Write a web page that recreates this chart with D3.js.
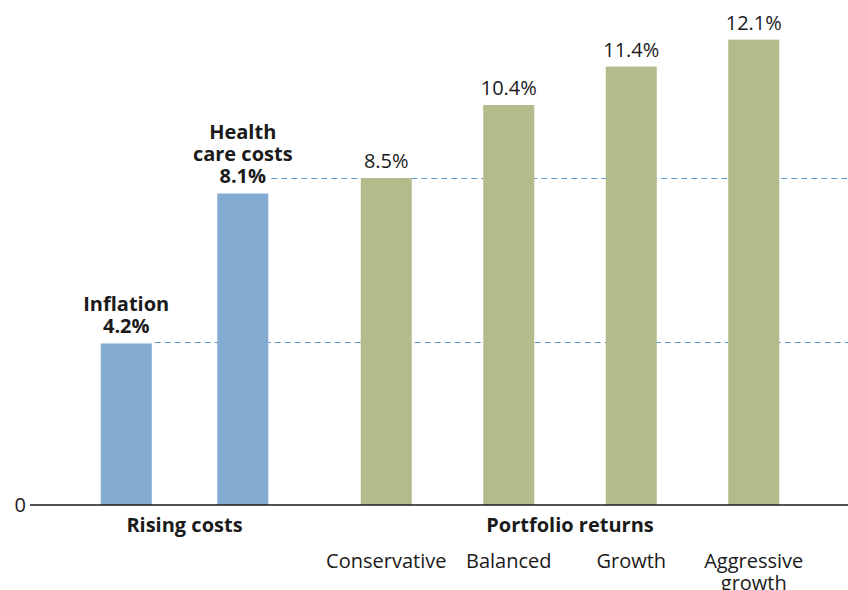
<!DOCTYPE html>
<html>
<head>
<meta charset="utf-8">
<script src="https://cdn.jsdelivr.net/npm/d3@7"></script>
<style>
  html, body { margin: 0; padding: 0; background: #fff; }
  text { font-family: "Open Sans", Lato, sans-serif; fill: #1a1a1a; }
</style>
</head>
<body>
<div id="container"></div>
<script>
// DATA
const groups = ["Rising costs", "Portfolio returns"];
const categories = ["Inflation", "Health care costs", "Conservative", "Balanced", "Growth", "Aggressive growth"];
const groupOf = ["Rising costs", "Rising costs", "Portfolio returns", "Portfolio returns", "Portfolio returns", "Portfolio returns"];
const values = [4.2, 8.1, 8.5, 10.4, 11.4, 12.1];
// labels drawn above the rising-cost bars, below the portfolio bars
const topLabels = [["Inflation"], ["Health", "care costs"], [], [], [], []];
const bottomLabels = [[], [], ["Conservative"], ["Balanced"], ["Growth"], ["Aggressive", "growth"]];
// dashed reference lines and the bar they start from
const refFrom = ["Inflation", "Health care costs"];
const refValues = [4.25, 8.5];
const yTicks = [0];

const w = 848, h = 590;
const baseY = 505;
const fontSize = '20px';
const groupRange = {"Rising costs": [68, 301], "Portfolio returns": [325, 815]};
const colors = {"Rising costs": "#84acd3", "Portfolio returns": "#b3bb8b"};

const chart = d3.select('#container')
                .append('svg')
                .attr('width', w)
                .attr('height', h);

// SCALES
const y = d3.scaleLinear()
            .domain([0, 13])
            .range([baseY, 5]);

// one band scale per group
const xScales = {};
groups.forEach(g => {
  const cats = categories.filter((c, i) => groupOf[i] === g);
  const r = groupRange[g];
  const step = (r[1] - r[0]) / cats.length;
  const pad = 1 - 51 / step;
  xScales[g] = d3.scaleBand()
                 .domain(cats)
                 .range(r)
                 .paddingInner(pad)
                 .paddingOuter(pad / 2);
});
const bw = d => xScales[d.group].bandwidth();
const xPos = d => xScales[d.group](d.cat);
const crisp = v => Math.round(v) + 0.5;

const rows = categories.map((c, i) => ({
  cat: c,
  group: groupOf[i],
  value: values[i],
  top: topLabels[i],
  bottom: bottomLabels[i]
}));

// REFERENCE LINES
chart.selectAll('line.ref')
     .data(refFrom.map((c, i) => ({cat: c, value: refValues[i], group: groups[0]})))
     .enter()
     .append('line')
     .attr('class', 'ref')
     .attr('x1', d => xPos(d) + bw(d) + 3)
     .attr('x2', w)
     .attr('y1', d => crisp(y(d.value)))
     .attr('y2', d => crisp(y(d.value)))
     .attr('stroke', '#5b97d0')
     .attr('stroke-width', 1)
     .attr('stroke-dasharray', '6,4');

// BARS
chart.selectAll('rect.bar')
     .data(rows).enter()
     .append('rect')
     .attr('class', 'bar')
     .attr('x', d => xPos(d))
     .attr('width', d => bw(d))
     .attr('y', d => y(d.value))
     .attr('height', d => y(0) - y(d.value))
     .attr('fill', d => colors[d.group]);

// BASELINE + 0 tick
chart.append('line')
     .attr('x1', 30)
     .attr('x2', w)
     .attr('y1', y(0))
     .attr('y2', y(0))
     .attr('stroke', '#1a1a1a')
     .attr('stroke-width', 1.5);

const yAxis = d3.axisLeft(y).tickValues(yTicks).tickSize(0).tickPadding(4);
const yG = chart.append('g')
                .attr('transform', 'translate(30,0)')
                .call(yAxis);
yG.select('.domain').remove();
yG.selectAll('text')
  .style('font-family', '"Open Sans", sans-serif')
  .style('font-size', fontSize)
  .attr('fill', '#1a1a1a');

// VALUE LABELS
const lineH = 22;
rows.forEach(d => {
  const cx = xPos(d) + bw(d) / 2;
  const bold = d.group === groups[0];
  const vy = y(d.value) - 10;
  chart.append('text')
       .attr('x', cx)
       .attr('y', vy)
       .attr('text-anchor', 'middle')
       .style('font-size', fontSize)
       .style('font-weight', bold ? 'bold' : 'normal')
       .text(d.value.toFixed(1) + '%');
  d.top.slice().reverse().forEach((t, j) => {
    chart.append('text')
         .attr('x', cx)
         .attr('y', vy - lineH * (j + 1))
         .attr('text-anchor', 'middle')
         .style('font-size', fontSize)
         .style('font-weight', 'bold')
         .text(t);
  });
  d.bottom.forEach((t, j) => {
    chart.append('text')
         .attr('x', cx)
         .attr('y', 568 + lineH * j)
         .attr('text-anchor', 'middle')
         .style('font-size', fontSize)
         .text(t);
  });
});

// GROUP TITLES
groups.forEach(g => {
  const members = rows.filter(d => d.group === g);
  const x0 = xPos(members[0]);
  const x1 = xPos(members[members.length - 1]) + bw(members[0]);
  chart.append('text')
       .attr('x', (x0 + x1) / 2)
       .attr('y', 532)
       .attr('text-anchor', 'middle')
       .style('font-size', fontSize)
       .style('font-weight', 'bold')
       .text(g);
});
</script>
</body>
</html>
